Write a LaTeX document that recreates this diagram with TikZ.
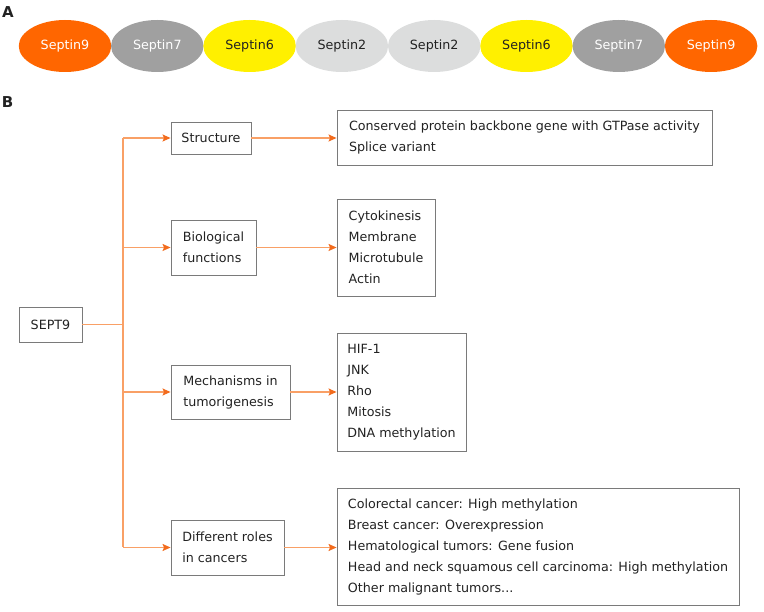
\documentclass[tikz,border=0pt]{standalone}
\usepackage{fontspec}
\setmainfont{DejaVu Sans}
\usetikzlibrary{arrows.meta,shapes.geometric}
\definecolor{sorange}{HTML}{FF6600}
\definecolor{sgray}{HTML}{A0A0A0}
\definecolor{syellow}{HTML}{FFF000}
\definecolor{slight}{HTML}{DCDDDD}
\definecolor{lineor}{HTML}{F9A066}
\definecolor{tipor}{HTML}{F26B1D}
\definecolor{boxgray}{HTML}{7A7A7A}
\definecolor{txt}{HTML}{222222}
\tikzset{
  sep/.style={ellipse, minimum width=92.5pt, minimum height=52pt, inner sep=0pt, draw=none, font=\fontsize{12.7}{21}\selectfont},
  box/.style={rectangle, draw=boxgray, line width=0.9pt, inner sep=0pt, align=left, text=txt, font=\fontsize{12.7}{21}\selectfont},
  conn/.style={draw=lineor, line width=1.3pt},
  arr/.style={conn, -{Stealth[length=8pt,width=7pt,inset=1.5pt,color=tipor]}},
  lbl/.style={font=\fontsize{15}{15}\selectfont\bfseries, text=txt, inner sep=0pt}
}
\begin{document}
\begin{tikzpicture}[x=1pt,y=-1pt]
\useasboundingbox (0,0) rectangle (764,612);
\node[lbl] (A) at (8,12.5) {A};
\node[lbl] (B) at (7.5,102.5) {B};
% Part A
\node[sep, fill=sorange, text=white] (e1) at (65,46) {Septin9};
\node[sep, fill=sgray, text=white] (e2) at (157.3,46) {Septin7};
\node[sep, fill=syellow, text=txt] (e3) at (249.6,46) {Septin6};
\node[sep, fill=slight, text=txt] (e4) at (341.9,46) {Septin2};
\node[sep, fill=slight, text=txt] (e5) at (434.2,46) {Septin2};
\node[sep, fill=syellow, text=txt] (e6) at (526.5,46) {Septin6};
\node[sep, fill=sgray, text=white] (e7) at (618.8,46) {Septin7};
\node[sep, fill=sorange, text=white] (e8) at (711.1,46) {Septin9};
% Part B
\node[box, minimum width=63pt, minimum height=35pt] (sept) at (50.5,324.5) {SEPT9};
\node[box, minimum width=80pt, minimum height=32pt] (struct) at (211,138) {Structure};
\node[box, minimum width=85pt, minimum height=55pt] (bio) at (213.5,247.5) {Biological\\functions};
\node[box, minimum width=119pt, minimum height=54pt] (mech) at (230.5,392) {Mechanisms in\\tumorigenesis};
\node[box, minimum width=113pt, minimum height=55pt] (roles) at (227.5,547.5) {Different roles\\in cancers};
\node[box, minimum width=375pt, minimum height=55pt] (cons) at (524.5,137.5) {Conserved protein backbone gene with GTPase activity\\Splice variant};
\node[box, minimum width=98pt, minimum height=97pt] (cyto) at (386,247.5) {Cytokinesis\\Membrane\\Microtubule\\Actin};
\node[box, minimum width=129pt, minimum height=118pt] (hif) at (401.5,392) {HIF-1\\JNK\\Rho\\Mitosis\\DNA methylation};
\node[box, minimum width=402pt, minimum height=117pt] (canc) at (538,546.5) {Colorectal cancer: High methylation\\Breast cancer: Overexpression\\Hematological tumors: Gene fusion\\Head and neck squamous cell carcinoma: High methylation\\Other malignant tumors...};
% connectors
\coordinate (j) at (123,324.5);
\coordinate (jt) at (123,138);
\coordinate (jb) at (123,547.5);
\coordinate (j2) at (123,247.5);
\coordinate (j3) at (123,392);
\draw[conn] (sept.east) -- (j);
\draw[conn] (jt) -- (jb);
\draw[arr] (jt) -- (struct.west);
\draw[arr] (j2) -- (bio.west);
\draw[arr] (j3) -- (mech.west);
\draw[arr] (jb) -- (roles.west);
\draw[arr] (struct.east) -- (struct.east -| cons.west);
\draw[arr] (bio.east) -- (bio.east -| cyto.west);
\draw[arr] (mech.east) -- (mech.east -| hif.west);
\draw[arr] (roles.east) -- (roles.east -| canc.west);
\end{tikzpicture}
\end{document}
